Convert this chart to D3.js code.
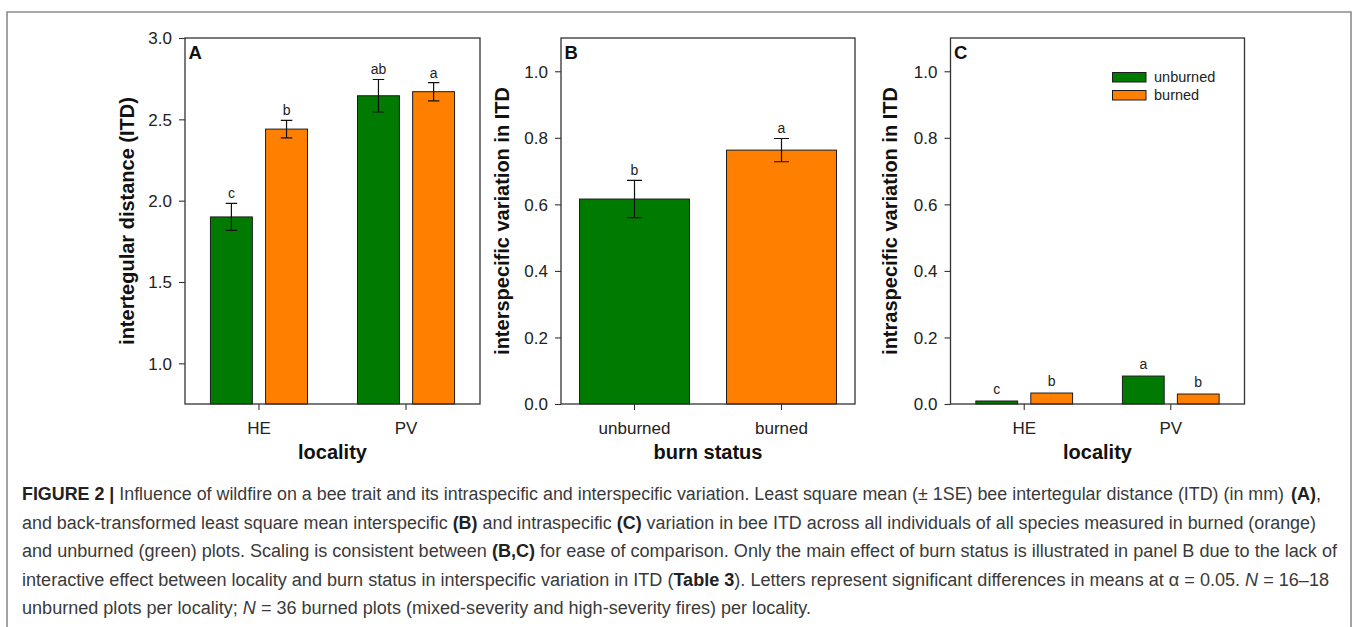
<!DOCTYPE html>
<html>
<head>
<meta charset="utf-8">
<script src="https://cdn.jsdelivr.net/npm/d3@7"></script>
<style>
  body { margin: 0; background: #fff; }
  svg { display: block; font-family: "Liberation Sans", Arial, Helvetica, sans-serif; }
</style>
</head>
<body>
<svg id="fig" width="1358" height="627"></svg>
<script>
// categories
const localities = ["HE", "PV"];
const burnStatus = ["unburned", "burned"];

// panel A: least square mean ITD (mm), +- 1SE, per locality
const itdUnburned = [1.90, 2.645];
const itdBurned = [2.44, 2.67];
const itdUnburnedSE = [0.083, 0.10];
const itdBurnedSE = [0.054, 0.056];
const itdLettersUnburned = ["c", "ab"];
const itdLettersBurned = ["b", "a"];

// panel B: interspecific variation in ITD, by burn status
const interMean = [0.616, 0.763];
const interSE = [0.056, 0.035];
const interLetters = ["b", "a"];

// panel C: intraspecific variation in ITD, per locality (SE too small to show)
const intraUnburned = [0.009, 0.084];
const intraBurned = [0.033, 0.030];
const intraLettersUnburned = ["c", "a"];
const intraLettersBurned = ["b", "b"];

// tick values
const ticksA = [1.0, 1.5, 2.0, 2.5, 3.0];
const ticksBC = [0.0, 0.2, 0.4, 0.6, 0.8, 1.0];

const colors = { unburned: "#007a00", burned: "#ff8000" };

const svg = d3.select("#fig");
const W = 1358, H = 627;
const plotTop = 38, plotBottom = 404;

svg.append("rect").attr("width", W).attr("height", H).attr("fill", "#fff");

// page frame
svg.append("path")
  .attr("d", `M7,${H} V12 H1351 V${H}`)
  .attr("fill", "none")
  .attr("stroke", "#8c8c8c")
  .attr("stroke-width", 1.6);

function drawPanel(p) {
  const g = svg.append("g");
  const y = d3.scaleLinear().domain(p.yDomain).range([plotBottom, plotTop]);
  const x = d3.scaleBand()
    .domain(p.categories)
    .range([p.left, p.right])
    .paddingInner(p.padIn)
    .paddingOuter(p.padOut);

  // sub-band for grouped bars
  const x1 = d3.scaleBand()
    .domain(p.grouped ? burnStatus : ["one"])
    .range([0, x.bandwidth()])
    .paddingInner(p.grouped ? 0.24 : 0);

  const bw = x1.bandwidth();

  const bars = g.selectAll(".bar").data(p.bars).enter().append("g");

  bars.append("rect")
    .attr("x", d => x(d.cat) + x1(p.grouped ? d.series : "one"))
    .attr("y", d => y(d.value))
    .attr("width", bw)
    .attr("height", d => y(p.yDomain[0]) - y(d.value))
    .attr("fill", d => colors[d.series])
    .attr("stroke", "#1c1c1c")
    .attr("stroke-width", 1);

  const cx = d => x(d.cat) + x1(p.grouped ? d.series : "one") + bw / 2;

  // error bars
  const eb = bars.filter(d => d.se != null);
  eb.append("path")
    .attr("d", d => {
      const c = cx(d), t = y(d.value + d.se), b = y(d.value - d.se), h = p.cap / 2;
      return `M${c},${t} V${b} M${c - h},${t} H${c + h} M${c - h},${b} H${c + h}`;
    })
    .attr("fill", "none")
    .attr("stroke", "#111")
    .attr("stroke-width", 1.2);

  // significance letters
  bars.append("text")
    .attr("x", cx)
    .attr("y", d => d.se != null ? y(d.value + d.se) - 5 : y(d.value) - 7)
    .attr("text-anchor", "middle")
    .attr("font-size", 14)
    .attr("fill", "#222")
    .text(d => d.letter);

  // frame
  g.append("rect")
    .attr("x", p.left).attr("y", plotTop)
    .attr("width", p.right - p.left).attr("height", plotBottom - plotTop)
    .attr("fill", "none")
    .attr("stroke", "#333")
    .attr("stroke-width", 1.3);

  // y axis
  const ya = g.append("g")
    .attr("transform", `translate(${p.left},0)`)
    .call(d3.axisLeft(y).tickValues(p.ticks).tickFormat(d3.format(".1f")).tickSize(6).tickPadding(7));
  ya.select(".domain").remove();
  ya.selectAll("line").attr("stroke", "#333").attr("stroke-width", 1.1);
  ya.selectAll("text").attr("font-size", 17).attr("fill", "#222").attr("dy", "0.34em");

  // x axis
  const xa = g.append("g")
    .attr("transform", `translate(0,${plotBottom})`)
    .call(d3.axisBottom(x).tickSize(6).tickPadding(12));
  xa.select(".domain").remove();
  xa.selectAll("line").attr("stroke", "#333").attr("stroke-width", 1.1);
  xa.selectAll("text").attr("font-size", 17).attr("fill", "#222");

  // axis titles
  g.append("text")
    .attr("transform", `translate(${p.yTitleX},${(plotTop + plotBottom) / 2}) rotate(-90)`)
    .attr("text-anchor", "middle")
    .attr("font-size", 20)
    .attr("font-weight", "bold")
    .attr("fill", "#111")
    .text(p.yTitle);

  g.append("text")
    .attr("x", (p.left + p.right) / 2)
    .attr("y", 459)
    .attr("text-anchor", "middle")
    .attr("font-size", 20)
    .attr("font-weight", "bold")
    .attr("fill", "#111")
    .text(p.xTitle);

  // panel letter
  g.append("text")
    .attr("x", p.left + 3.5)
    .attr("y", 58.5)
    .attr("font-size", 18.5)
    .attr("font-weight", "bold")
    .attr("fill", "#111")
    .text(p.label);

  return g;
}

function groupedBars(unb, bur, unbSE, burSE, unbL, burL) {
  const out = [];
  localities.forEach((loc, i) => {
    out.push({ cat: loc, series: "unburned", value: unb[i], se: unbSE ? unbSE[i] : null, letter: unbL[i] });
    out.push({ cat: loc, series: "burned", value: bur[i], se: burSE ? burSE[i] : null, letter: burL[i] });
  });
  return out;
}

// panel A
drawPanel({
  label: "A",
  left: 185, right: 480,
  yDomain: [0.75, 3.0], ticks: ticksA,
  categories: localities, grouped: true,
  padIn: 0.34, padOut: 0.173, cap: 11.5,
  bars: groupedBars(itdUnburned, itdBurned, itdUnburnedSE, itdBurnedSE, itdLettersUnburned, itdLettersBurned),
  yTitle: "intertegular distance (ITD)", yTitleX: 134,
  xTitle: "locality"
});

// panel B
drawPanel({
  label: "B",
  left: 561, right: 855,
  yDomain: [0, 1.1], ticks: ticksBC,
  categories: burnStatus, grouped: false,
  padIn: 0.252, padOut: 0.126, cap: 15,
  bars: burnStatus.map((s, i) => ({ cat: s, series: s, value: interMean[i], se: interSE[i], letter: interLetters[i] })),
  yTitle: "interspecific variation in ITD", yTitleX: 509,
  xTitle: "burn status"
});

// panel C
const gC = drawPanel({
  label: "C",
  left: 950.5, right: 1244.5,
  yDomain: [0, 1.1], ticks: ticksBC,
  categories: localities, grouped: true,
  padIn: 0.34, padOut: 0.173, cap: 11.5,
  bars: groupedBars(intraUnburned, intraBurned, null, null, intraLettersUnburned, intraLettersBurned),
  yTitle: "intraspecific variation in ITD", yTitleX: 897,
  xTitle: "locality"
});

// legend in panel C
const leg = gC.append("g").attr("transform", "translate(1112.5,72.5)");
burnStatus.forEach((s, i) => {
  leg.append("rect")
    .attr("x", 0).attr("y", i * 18)
    .attr("width", 33.5).attr("height", 9.5)
    .attr("fill", colors[s])
    .attr("stroke", "#1c1c1c").attr("stroke-width", 1);
  leg.append("text")
    .attr("x", 41.5).attr("y", i * 18 + 9.5)
    .attr("font-size", 14.5)
    .attr("fill", "#222")
    .text(s);
});

// caption
const captionLines = [
  [["b", "FIGURE 2 | "], ["n", "Influence of wildfire on a bee trait and its intraspecific and interspecific variation. Least square mean (\u00b1 1SE) bee intertegular distance (ITD) (in mm)"]],
  [["n", "and back-transformed least square mean interspecific "], ["b", "(B)"], ["n", " and intraspecific "], ["b", "(C)"], ["n", " variation in bee ITD across all individuals of all species measured in burned (orange)"]],
  [["n", "and unburned (green) plots. Scaling is consistent between "], ["b", "(B,C)"], ["n", " for ease of comparison. Only the main effect of burn status is illustrated in panel B due to the lack of"]],
  [["n", "interactive effect between locality and burn status in interspecific variation in ITD ("], ["b", "Table 3"], ["n", "). Letters represent significant differences in means at \u03b1 = 0.05. "], ["i", "N"], ["n", " = 16\u201318"]],
  [["n", "unburned plots per locality; "], ["i", "N"], ["n", " = 36 burned plots (mixed-severity and high-severity fires) per locality."]]
];
const captionWidths = [1262, 1294, 1315, 1307, 789];

const cap = svg.append("g");
captionLines.forEach((segs, i) => {
  const t = cap.append("text")
    .attr("x", 22)
    .attr("y", 500 + i * 28.5)
    .attr("font-size", 18)
    .attr("fill", "#3a3a3a")
    .attr("textLength", captionWidths[i])
    .attr("lengthAdjust", "spacingAndGlyphs")
    .style("white-space", "pre");
  segs.forEach(([k, s]) => {
    const ts = t.append("tspan").text(s);
    if (k === "b") ts.attr("font-weight", "bold").attr("fill", "#222");
    if (k === "i") ts.attr("font-style", "italic");
  });
});
// panel reference closing line 1
cap.append("text")
  .attr("x", 1321)
  .attr("y", 500)
  .attr("text-anchor", "end")
  .attr("font-size", 18)
  .attr("fill", "#222")
  .html('<tspan font-weight="bold">(A)</tspan>,');
</script>
</body>
</html>
